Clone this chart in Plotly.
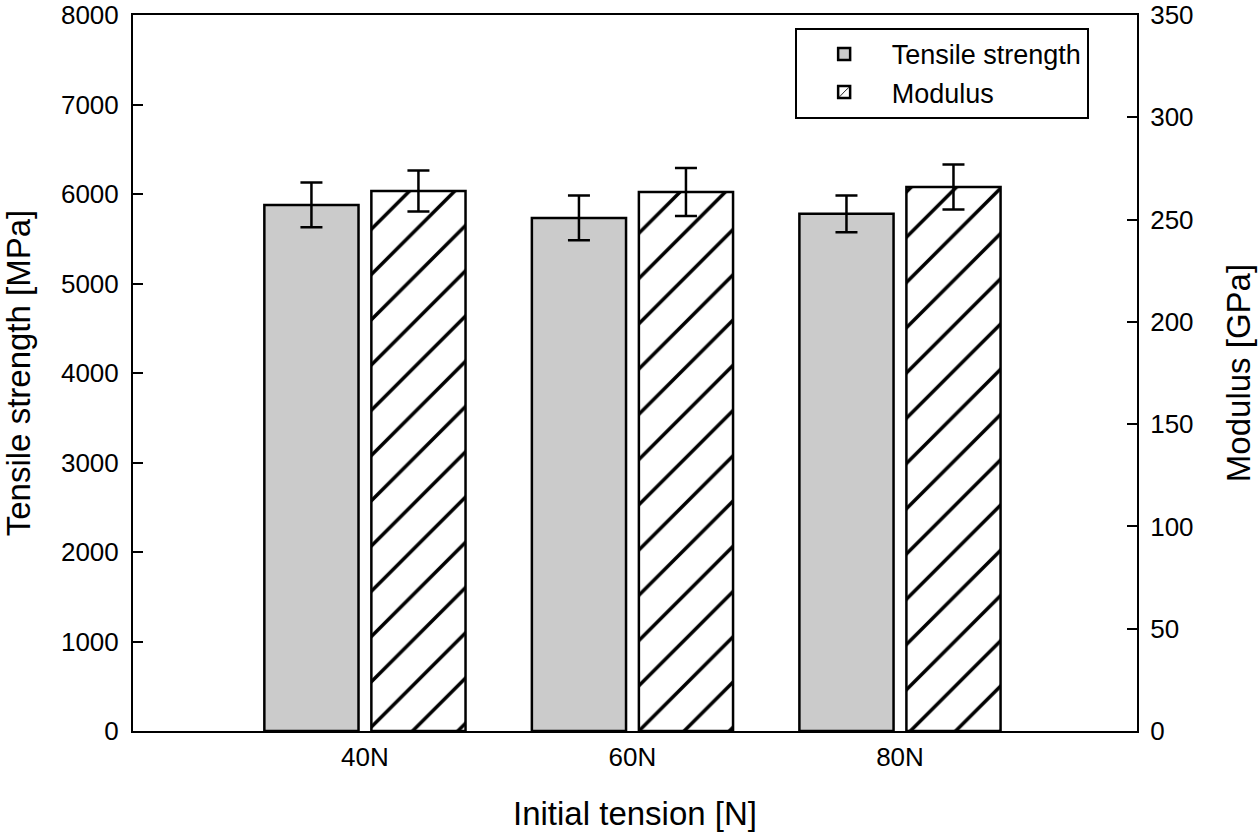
import plotly.graph_objects as go

categories = ["40N", "60N", "80N"]
tensile_strength = [5878, 5733, 5778]
tensile_err = [250, 250, 205]
modulus = [264.0, 263.5, 265.9]
modulus_err = [10, 11.7, 11]

left_ticks = [0, 1000, 2000, 3000, 4000, 5000, 6000, 7000, 8000]
right_ticks = [0, 50, 100, 150, 200, 250, 300, 350]

FONT = "Liberation Sans, Arial, sans-serif"

fig = go.Figure()
fig.add_trace(go.Bar(
    x=categories, y=tensile_strength, name="Tensile strength",
    offsetgroup="a", yaxis="y",
    marker=dict(color="#cbcbcb", line=dict(color="black", width=2.5)),
    error_y=dict(type="data", array=tensile_err, visible=True,
                 color="black", thickness=2.5, width=11),
))
fig.add_trace(go.Bar(
    x=categories, y=modulus, name="Modulus",
    offsetgroup="b", yaxis="y2",
    marker=dict(color="white", line=dict(color="black", width=2.5),
                pattern=dict(shape="/", fgcolor="black", bgcolor="white",
                             size=32, solidity=0.11, fillmode="replace")),
    error_y=dict(type="data", array=modulus_err, visible=True,
                 color="black", thickness=2.5, width=11),
))

fig.update_layout(
    width=1260, height=840,
    margin=dict(l=133, r=123, t=15, b=109, autoexpand=False),
    paper_bgcolor="white", plot_bgcolor="white",
    barmode="group", bargap=0.2, bargroupgap=0.12,
    font=dict(family=FONT, size=26, color="black"),
    showlegend=True,
    legend=dict(x=0.659, y=0.982, xanchor="left", yanchor="top",
                bgcolor="white", bordercolor="black", borderwidth=2,
                font=dict(size=27), itemwidth=85, tracegroupgap=4),
    xaxis=dict(
        range=[-0.867, 2.886], showline=True, linecolor="black", linewidth=2,
        mirror=True, ticks="", showgrid=False, zeroline=False, automargin=False,
        title=dict(text="Initial tension [N]", font=dict(size=33), standoff=31),
        ticklabelstandoff=2,
    ),
    yaxis=dict(
        range=[0, 8000], tickvals=left_ticks, showline=True, linecolor="black",
        linewidth=2, ticks="inside", ticklen=10, tickwidth=2, tickcolor="black",
        showgrid=False, zeroline=False, ticklabelstandoff=7, automargin=False,
        ticklabeloverflow="allow",
        title=dict(text="Tensile strength [MPa]", font=dict(size=33), standoff=22),
    ),
    yaxis2=dict(
        range=[0, 350], tickvals=right_ticks, overlaying="y", side="right",
        showline=True, linecolor="black", linewidth=2, ticks="inside",
        ticklen=10, tickwidth=2, tickcolor="black", showgrid=False,
        zeroline=False, ticklabelstandoff=6, automargin=False,
        ticklabeloverflow="allow",
        title=dict(text="Modulus [GPa]", font=dict(size=33), standoff=34),
    ),
)

fig.write_html("out.html", config={"displayModeBar": False},
               post_script="document.body.style.margin='0';document.body.style.overflow='hidden';")
